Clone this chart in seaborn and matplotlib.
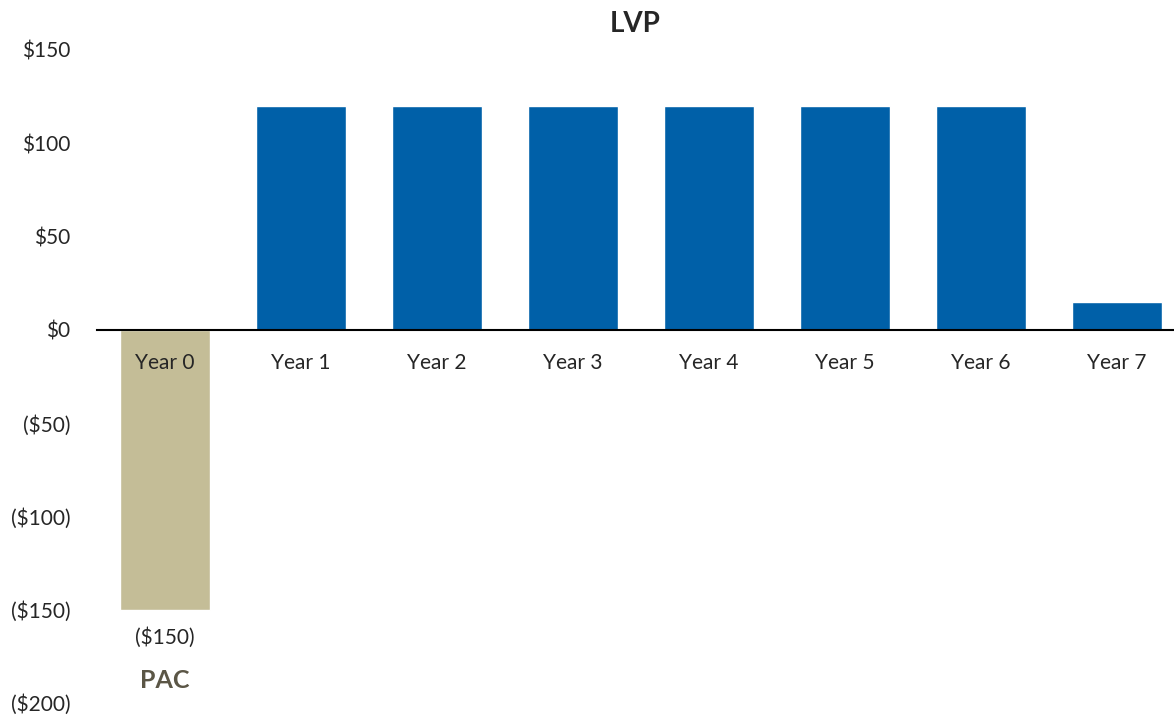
import numpy as np
import pandas as pd
import matplotlib.pyplot as plt
import seaborn as sns

years = ["Year 0", "Year 1", "Year 2", "Year 3", "Year 4", "Year 5", "Year 6", "Year 7"]
cash_flow = [-150, 120, 120, 120, 120, 120, 120, 15]
bar_colors = ["#C4BD97", "#0060A8", "#0060A8", "#0060A8", "#0060A8", "#0060A8", "#0060A8", "#0060A8"]
y_ticks = [150, 100, 50, 0, -50, -100, -150, -200]

def money(v):
    return f"${v:.0f}" if v >= 0 else f"(${-v:.0f})"

sns.set_style("white")
plt.rcParams['font.family'] = ['Lato', 'DejaVu Sans']

df = pd.DataFrame({"year": years, "value": cash_flow})

fig = plt.figure(figsize=(11.74, 7.17), dpi=100)
ax = fig.add_axes([97 / 1174, 1 - 703 / 717, 1 - 97 / 1174, (703 - 50) / 717])

sns.barplot(data=df, x="year", y="value", hue="year", palette=bar_colors,
            legend=False, width=0.66, saturation=1, ax=ax, zorder=0.5)

ax.set_ylim(-200, 150)
ax.set_xlim(-0.5, 7.42)
ax.set_yticks(y_ticks)
ax.set_yticklabels([money(v) for v in y_ticks], fontsize=15)
ax.tick_params(axis="y", length=0, pad=19)
ax.tick_params(axis="x", length=0, pad=17, labelsize=15)
ax.set_xlabel("")
ax.set_ylabel("")

for s in ["left", "right", "top"]:
    ax.spines[s].set_visible(False)
ax.spines["bottom"].set_position(("data", 0))
ax.spines["bottom"].set_color("black")
ax.spines["bottom"].set_linewidth(1.5)

# label under the negative bar
ax.annotate(money(cash_flow[0]), xy=(0, cash_flow[0]), xytext=(0, -20),
            textcoords="offset points", ha="center", va="center", fontsize=15)
ax.annotate("PAC", xy=(0, cash_flow[0]), xytext=(0, -51),
            textcoords="offset points", ha="center", va="center", fontsize=18,
            fontweight="bold", color="#5B5646")

fig.text(635 / 1174, 1 - 24 / 717, "LVP", ha="center", va="center",
         fontsize=20, fontweight="bold")

fig.savefig("out.png", dpi=100)
